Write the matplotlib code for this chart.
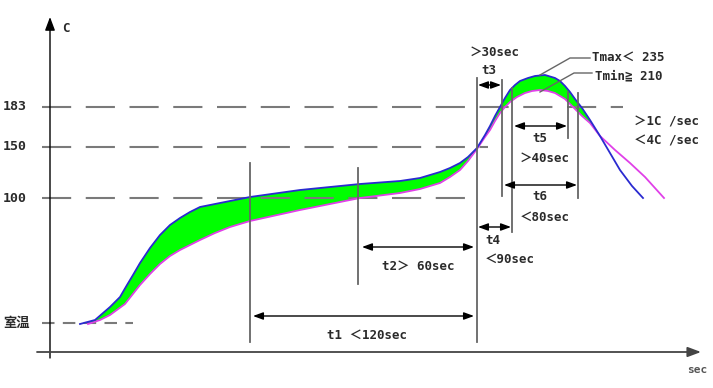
import matplotlib.pyplot as plt

# chart units: x runs left→right (time), y runs top→bottom (schematic temperature level)
upper_x = [80, 95, 110, 120, 127, 133, 140, 150, 160, 170, 180, 190, 200, 215,
           230, 250, 300, 360, 400, 420, 440, 450, 460, 468, 477, 485, 490, 495,
           500, 505, 510, 515, 520, 528, 535, 545, 555, 560, 565, 570, 575, 582,
           590, 600, 610, 620, 632, 643]
upper_y = [324, 320, 307, 297, 285, 275, 263, 248, 235, 225, 218, 212, 207, 204,
           201, 197, 190, 184, 181, 178, 172, 168, 163, 157, 148, 135, 126, 116,
           107, 98, 90, 85, 81, 78, 76, 75, 78, 81, 86, 92, 99, 108,
           120, 136, 153, 170, 186, 198]
lower_x = [88, 100, 110, 125, 140, 150, 160, 170, 180, 190, 200, 215, 230, 250,
           300, 360, 400, 420, 440, 450, 460, 468, 477, 485, 490, 495, 500, 505,
           510, 517, 525, 532, 540, 548, 555, 560, 565, 570, 575, 582, 590, 600,
           615, 630, 645, 664]
lower_y = [324, 320, 315, 304, 285, 274, 264, 256, 250, 245, 240, 233, 227, 221,
           210, 198, 193, 189, 183, 177, 170, 161, 149, 137, 130, 121, 113, 107,
           102, 97, 93, 91, 90, 91, 93, 96, 99, 104, 109, 116, 123, 136,
           150, 163, 177, 198]

level_labels = ['183', '150', '100', '室温']
level_y = [107, 147, 198, 323]
level_x_end = [623, 488, 465, 133]

# vertical marker lines: x, top, bottom
markers = [(250, 163, 342), (358, 168, 284), (477, 78, 342), (502, 80, 196),
           (512, 88, 232), (568, 92, 138), (578, 93, 198)]
# span arrows: y, x start, x end
spans = [(316, 253, 474), (247, 362, 474), (85, 478, 501), (227, 478, 511),
         (126, 514, 567), (185, 504, 577)]

FONT = ['DejaVu Sans Mono', 'Noto Sans CJK SC']
TXT = '#2a2a2a'
GRAY = '#7a7a7a'

fig = plt.figure(figsize=(7.13, 3.88), dpi=100)
ax = fig.add_axes([0, 0, 1, 1])
ax.set_xlim(0, 713)
ax.set_ylim(388, 0)
ax.axis('off')

# axes with arrows
ax.annotate('', xy=(50, 17), xytext=(50, 358),
            arrowprops=dict(arrowstyle='-|>,head_length=0.8,head_width=0.3',
                            color='black', lw=1, shrinkA=0, shrinkB=0))
ax.annotate('', xy=(701, 352), xytext=(37, 352),
            arrowprops=dict(arrowstyle='-|>,head_length=0.8,head_width=0.3',
                            color='#444444', lw=1.3, shrinkA=0, shrinkB=0))
ax.text(62, 28, 'C', fontsize=9, fontweight='bold', family=FONT, color=TXT,
        ha='left', va='center')
ax.text(697, 370, 'sec', fontsize=8, fontweight='bold', family=FONT,
        color='#555555', ha='center', va='center')

# dashed reference levels
for lab, y, xe in zip(level_labels, level_y, level_x_end):
    dash = (6, 4) if lab == '室温' else (14, 7)
    ax.plot([42, xe], [y, y], color=GRAY, lw=1.5, dashes=dash)
    ax.text(3, y, lab, fontsize=9.5, fontweight='bold', family=FONT, color=TXT,
            ha='left', va='center')

# process window
poly_x = [x for x in upper_x if x <= 600] + [x for x in lower_x if x <= 600][::-1]
poly_y = ([y for x, y in zip(upper_x, upper_y) if x <= 600]
          + [y for x, y in zip(lower_x, lower_y) if x <= 600][::-1])
ax.fill(poly_x, poly_y, color='#00ff00', lw=0)
ax.plot(lower_x, lower_y, color='#e040e8', lw=1.3)
ax.plot(upper_x, upper_y, color='#2a2ad0', lw=1.3)

for x, y0, y1 in markers:
    ax.plot([x, x], [y0, y1], color='#666666', lw=1.3)

for y, x0, x1 in spans:
    ax.annotate('', xy=(x1, y), xytext=(x0, y),
                arrowprops=dict(arrowstyle='<|-|>,head_length=0.6,head_width=0.22',
                                color='black', lw=1, shrinkA=0, shrinkB=0))

# Tmax / Tmin leaders
ax.plot([540, 570, 590], [75, 58, 58], color='#666666', lw=1)
ax.plot([540, 574, 592], [92, 73, 73], color='#666666', lw=1)

kw = dict(fontsize=9, fontweight='bold', family=FONT, color=TXT, va='center')
ax.text(470, 52, '＞30sec', ha='left', **kw)
ax.text(489, 70, 't3', ha='center', **kw)
ax.text(592, 57, 'Tmax＜ 235', ha='left', **kw)
ax.text(595, 76, 'Tmin≧ 210', ha='left', **kw)
ax.text(634, 122, '＞1C /sec', ha='left', **kw)
ax.text(634, 141, '＜4C /sec', ha='left', **kw)
ax.text(540, 139, 't5', ha='center', **kw)
ax.text(520, 158, '＞40sec', ha='left', **kw)
ax.text(540, 197, 't6', ha='center', **kw)
ax.text(520, 217, '＜80sec', ha='left', **kw)
ax.text(493, 240, 't4', ha='center', **kw)
ax.text(485, 259, '＜90sec', ha='left', **kw)
ax.text(418, 266, 't2＞ 60sec', ha='center', **kw)
ax.text(367, 335, 't1 ＜120sec', ha='center', **kw)

fig.savefig('out.png', dpi=100)
